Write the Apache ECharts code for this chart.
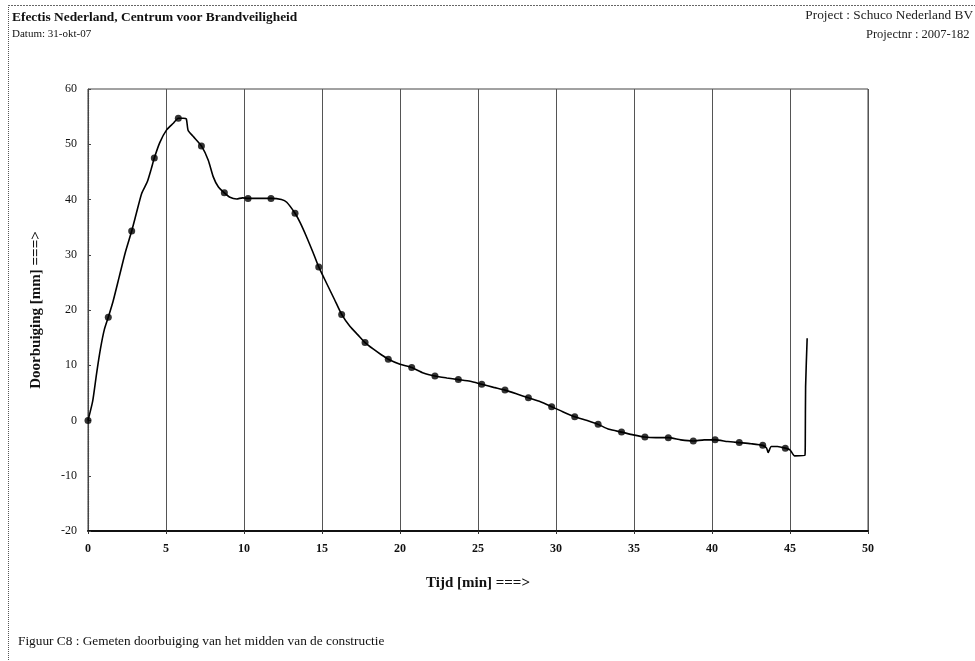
<!DOCTYPE html>
<html>
<head>
<meta charset="utf-8">
<script src="https://cdn.jsdelivr.net/npm/echarts@6/dist/echarts.min.js"></script>
<style>
html,body{margin:0;padding:0;background:#fff;}
#chart{width:975px;height:661px;}
</style>
</head>
<body>
<div id="chart"></div>
<script>
// Curve of measured deflection (time in min, deflection in mm)
var curveTime = [0,0.3,0.55,0.8,1.05,1.3,1.6,2.0,2.4,2.8,3.1,3.44,3.8,4.05,4.25,4.6,5.04,5.47,5.79,6.1,6.3,6.42,6.75,7.27,7.71,8.03,8.35,8.74,9.1,9.53,9.9,10.26,11.0,11.73,12.4,12.74,13.27,13.6,14.0,14.4,14.79,15.3,15.8,16.26,16.8,17.3,17.76,18.3,18.8,19.25,20.0,20.75,21.5,22.24,23.0,23.74,24.5,25.24,26.0,26.73,27.5,28.23,29.0,29.72,30.5,31.2,32.0,32.7,33.4,34.2,34.95,35.7,36.4,37.2,38.0,38.8,39.5,40.2,41.0,41.75,42.5,43.25,43.5,43.6,43.8,44.2,44.7,45.0,45.3,45.96,45.98,46.0,46.1];
var curveValue = [0,3.5,8.5,13,16.5,18.7,21.5,26,30.5,34.3,37.5,41.1,43.2,45.5,47.5,50.3,52.6,53.8,54.7,54.7,54.6,52.5,51.4,49.7,47.1,44.1,42.3,41.2,40.4,40.1,40.3,40.2,40.2,40.2,40.0,39.5,37.5,35.8,33.3,30.6,27.8,24.8,21.9,19.2,17.0,15.5,14.1,12.9,11.9,11.1,10.2,9.6,8.6,8.05,7.7,7.4,7.1,6.55,6.0,5.5,4.8,4.1,3.4,2.5,1.5,0.7,0.0,-0.7,-1.6,-2.1,-2.6,-3.0,-3.1,-3.1,-3.5,-3.7,-3.5,-3.5,-3.8,-4.0,-4.2,-4.5,-5.0,-5.8,-4.7,-4.7,-5.0,-5.3,-6.4,-6.3,-3.5,6.1,14.9];
// Marker points
var markerTime = [0,1.3,2.8,4.25,5.79,7.27,8.74,10.26,11.73,13.27,14.79,16.26,17.76,19.25,20.75,22.24,23.74,25.24,26.73,28.23,29.72,31.2,32.7,34.2,35.7,37.2,38.8,40.2,41.75,43.25,44.7];
var markerValue = [0,18.7,34.3,47.5,54.7,49.7,41.2,40.2,40.2,37.5,27.8,19.2,14.1,11.1,9.6,8.05,7.4,6.55,5.5,4.1,2.5,0.7,-0.7,-2.1,-3.0,-3.1,-3.7,-3.5,-4.0,-4.5,-5.0];
var xTicks = {min:0, max:50, step:5};
var yTicks = {min:-20, max:60, step:10};
var headerLeft = "Efectis Nederland, Centrum voor Brandveiligheid";
var dateText = "Datum: 31-okt-07";
var projectText = "Project : Schuco Nederland BV";
var projectNrText = "Projectnr : 2007-182";
var xTitle = "Tijd [min] ===>";
var yTitle = "Doorbuiging [mm] ===>";
var caption = "Figuur C8 : Gemeten doorbuiging van het midden van de constructie";

var serif = "'Liberation Serif','DejaVu Serif',serif";
var chart = echarts.init(document.getElementById('chart'), null, {renderer:'canvas'});
var curve = curveTime.map(function(t,i){return [t, curveValue[i]];});
var marks = markerTime.map(function(t,i){return [t, markerValue[i]];});

chart.setOption({
  animation:false,
  backgroundColor:'#fff',
  grid:{left:88, right:107, top:89, bottom:130, show:true, borderColor:'#444', borderWidth:1, backgroundColor:'transparent'},
  xAxis:{
    type:'value', min:xTicks.min, max:xTicks.max, interval:xTicks.step,
    name:xTitle, nameLocation:'middle', nameGap:45,
    nameTextStyle:{fontFamily:serif, fontSize:15, fontWeight:'bold', color:'#111'},
    axisLine:{show:true, onZero:false, lineStyle:{color:'#111', width:2}},
    axisTick:{show:true, inside:false, length:3, lineStyle:{color:'#333'}},
    axisLabel:{fontFamily:serif, fontSize:12, fontWeight:'bold', color:'#111', margin:12},
    splitLine:{show:true, lineStyle:{color:'#555', width:1}}
  },
  yAxis:{
    type:'value', min:yTicks.min, max:yTicks.max, interval:yTicks.step,
    name:yTitle, nameLocation:'middle', nameGap:44, nameRotate:90,
    nameTextStyle:{fontFamily:serif, fontSize:15, fontWeight:'bold', color:'#111'},
    axisLine:{show:true, onZero:false, lineStyle:{color:'#444', width:1.2, type:'dotted'}},
    axisTick:{show:true, inside:true, length:3, lineStyle:{color:'#444'}},
    axisLabel:{fontFamily:serif, fontSize:12, color:'#111', margin:11},
    splitLine:{show:false}
  },
  series:[
    {type:'line', data:curve, showSymbol:false, smooth:0.2, lineStyle:{color:'#000', width:1.6}, z:3},
    {type:'scatter', data:marks, symbol:'circle', symbolSize:7, itemStyle:{color:'#000'}, z:4}
  ],
  graphic:[
    {type:'line', shape:{x1:8.5,y1:5,x2:8.5,y2:661}, style:{stroke:'#555', lineWidth:1, lineDash:[1,1]}},
    {type:'line', shape:{x1:8,y1:5.5,x2:975,y2:5.5}, style:{stroke:'#666', lineWidth:1, lineDash:[2,1]}},
    {type:'text', left:12, top:11, style:{text:headerLeft, font:"bold 13.4px "+serif, fill:'#111'}},
    {type:'text', left:12, top:29, style:{text:dateText, font:"11px "+serif, fill:'#111'}},
    {type:'text', right:2, top:9, style:{text:projectText, font:"13.3px "+serif, fill:'#222'}},
    {type:'text', left:866, top:28, style:{text:projectNrText, font:"12.5px "+serif, fill:'#222'}},
    {type:'text', left:18, top:635, style:{text:caption, font:"13.3px "+serif, fill:'#111'}}
  ]
});
</script>
</body>
</html>
